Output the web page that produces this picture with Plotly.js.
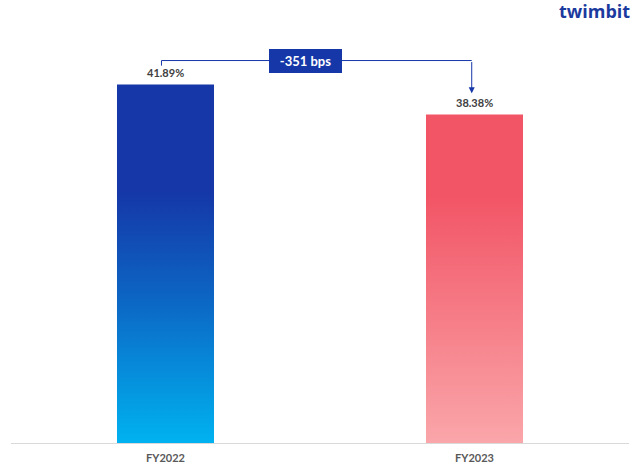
<!DOCTYPE html>
<html>
<head>
<meta charset="utf-8">
<script src="https://cdn.plot.ly/plotly-3.0.1.min.js"></script>
<style>html,body{margin:0;padding:0;background:#fff;}#chart{width:640px;height:473px;}</style>
</head>
<body>
<div id="chart"></div>
<script>
const categories = ["FY2022", "FY2023"];
const values = [41.89, 38.38];
const valueLabels = ["41.89%", "38.38%"];
const changeLabel = "-351 bps";
const logoText = "twimbit";

const gradients = [
  [[0, "#1537A8"], [0.3, "#1537A8"], [0.6, "#0C66C4"], [1, "#00B2F0"]],
  [[0, "#F25566"], [0.25, "#F25566"], [1, "#FAA6AA"]]
];

const bracketY = Math.max(values[0], values[1]) + 2.8;
const leftEnd = values[0] + 2.2;
const rightEnd = values[1] + 2.5;

const trace = {
  type: "bar",
  x: categories,
  y: values,
  width: 0.314,
  marker: {color: ["#1537A8", "#F25566"], line: {width: 0}},
  cliponaxis: false,
  hoverinfo: "x+y"
};

const labelAnnotations = categories.map(function (c, i) {
  return {xref: "x", yref: "y", x: c, y: values[i], text: "<b>" + valueLabels[i] + "</b>",
    showarrow: false, xanchor: "center", yanchor: "bottom", yshift: 4,
    font: {family: "Lato, 'Open Sans', sans-serif", size: 11, color: "#404040"}};
});

const layout = {
  width: 640, height: 473,
  margin: {l: 11, r: 11, t: 40, b: 30},
  paper_bgcolor: "#ffffff",
  plot_bgcolor: "#ffffff",
  showlegend: false,
  font: {family: "Lato, 'Open Sans', sans-serif"},
  xaxis: {
    type: "category",
    range: [-0.5, 1.5],
    showline: true, linecolor: "#d9d9d9", linewidth: 1,
    showgrid: false, zeroline: false, ticks: "",
    tickfont: {family: "Lato, 'Open Sans', sans-serif", size: 11, color: "#595959", weight: "bold"},
    ticklabelstandoff: 5,
    fixedrange: true
  },
  yaxis: {
    range: [0, 47.09],
    visible: false, showgrid: false, zeroline: false, fixedrange: true
  },
  shapes: [
    {type: "line", xref: "x", yref: "y", x0: -0.013, x1: 0.991, y0: bracketY, y1: bracketY,
     line: {color: "#1537A8", width: 1}},
    {type: "line", xref: "x", yref: "y", x0: -0.013, x1: -0.013, y0: bracketY, y1: leftEnd,
     line: {color: "#1537A8", width: 1}}
  ],
  annotations: labelAnnotations.concat([
    {xref: "x", yref: "y", axref: "x", ayref: "y",
     x: 0.991, y: rightEnd, ax: 0.991, ay: bracketY,
     text: "", showarrow: true, arrowhead: 2, arrowsize: 1.2, arrowwidth: 1, arrowcolor: "#1537A8"},
    {xref: "x", yref: "y", x: 0.453, y: bracketY, text: "<b>" + changeLabel + "</b>",
     showarrow: false, bgcolor: "#1537A8", borderpad: 5, borderwidth: 0,
     font: {family: "Lato, 'Open Sans', sans-serif", size: 13, color: "#ffffff"},
     xanchor: "center", yanchor: "middle", width: 63, height: 14},
    {xref: "paper", yref: "paper", x: 1.005, y: 1.071, xanchor: "right", yanchor: "middle",
     text: "<b>" + logoText + "</b>", showarrow: false,
     font: {family: "'Open Sans', Lato, sans-serif", size: 18, color: "#1B3A9E"}}
  ])
};

Plotly.newPlot("chart", [trace], layout, {displayModeBar: false, staticPlot: true}).then(function (gd) {
  const svg = gd.querySelector(".main-svg");
  let defs = svg.querySelector("defs");
  if (!defs) { defs = document.createElementNS("http://www.w3.org/2000/svg", "defs"); svg.insertBefore(defs, svg.firstChild); }
  const ns = "http://www.w3.org/2000/svg";
  gradients.forEach(function (stops, i) {
    const lg = document.createElementNS(ns, "linearGradient");
    lg.setAttribute("id", "barGrad" + i);
    lg.setAttribute("x1", "0"); lg.setAttribute("y1", "0");
    lg.setAttribute("x2", "0"); lg.setAttribute("y2", "1");
    stops.forEach(function (s) {
      const st = document.createElementNS(ns, "stop");
      st.setAttribute("offset", s[0]);
      st.setAttribute("stop-color", s[1]);
      lg.appendChild(st);
    });
    defs.appendChild(lg);
  });
  const paths = gd.querySelectorAll(".trace.bars .point path");
  paths.forEach(function (p, i) { p.style.fill = "url(#barGrad" + i + ")"; });
});
</script>
</body>
</html>
